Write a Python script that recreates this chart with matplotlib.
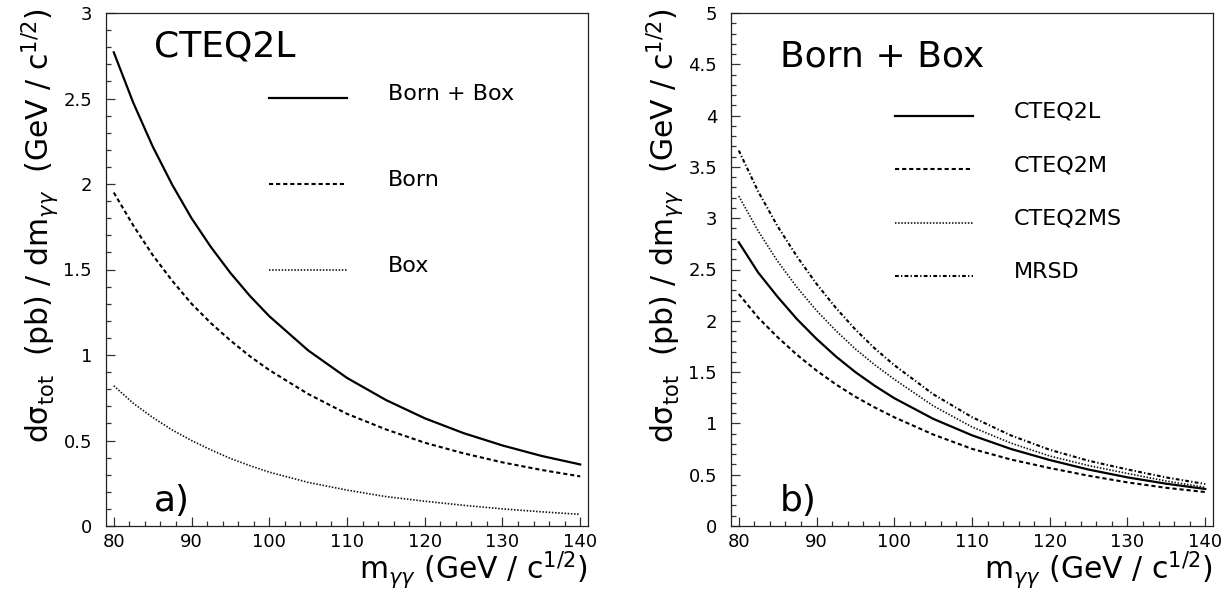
import matplotlib
matplotlib.use('Agg')
import matplotlib.pyplot as plt
from matplotlib.ticker import MultipleLocator, FuncFormatter
from matplotlib.legend_handler import HandlerLine2D
from matplotlib.lines import Line2D

plt.rcParams['font.family'] = ['DejaVu Sans']
plt.rcParams['mathtext.fontset'] = 'custom'
plt.rcParams['mathtext.rm'] = 'DejaVu Sans'
plt.rcParams['mathtext.it'] = 'DejaVu Sans:italic'
plt.rcParams['mathtext.bf'] = 'DejaVu Sans:bold'

# ---------------- data ----------------
m_gg = [80, 82.5, 85, 87.5, 90, 92.5, 95, 97.5, 100,
        105, 110, 115, 120, 125, 130, 135, 140]

# panel a) CTEQ2L
born_box = [2.77, 2.476, 2.22, 1.997, 1.80, 1.631, 1.48, 1.346, 1.227,
            1.027, 0.866, 0.737, 0.630, 0.543, 0.471, 0.410, 0.360]
born = [1.95, 1.758, 1.585, 1.435, 1.30, 1.186, 1.085, 0.993, 0.912,
        0.772, 0.656, 0.565, 0.487, 0.425, 0.372, 0.328, 0.290]
box = [0.82, 0.718, 0.635, 0.562, 0.50, 0.445, 0.395, 0.353, 0.315,
       0.255, 0.210, 0.172, 0.145, 0.121, 0.100, 0.083, 0.068]

# panel b) Born + Box for several PDFs
cteq2l = [2.765, 2.47, 2.233, 2.015, 1.824, 1.652, 1.50, 1.366, 1.246,
          1.045, 0.884, 0.751, 0.643, 0.550, 0.474, 0.412, 0.361]
cteq2m = [2.261, 2.03, 1.84, 1.668, 1.515, 1.38, 1.26, 1.155, 1.06,
          0.892, 0.752, 0.648, 0.565, 0.490, 0.425, 0.372, 0.331]
cteq2ms = [3.216, 2.875, 2.58, 2.325, 2.10, 1.903, 1.725, 1.57, 1.43,
           1.172, 0.965, 0.808, 0.682, 0.589, 0.512, 0.438, 0.377]
mrsd = [3.66, 3.26, 2.92, 2.625, 2.36, 2.125, 1.915, 1.73, 1.568,
        1.285, 1.061, 0.883, 0.743, 0.636, 0.551, 0.473, 0.409]

labels_a = ['Born + Box', 'Born', 'Box']
labels_b = ['CTEQ2L', 'CTEQ2M', 'CTEQ2MS', 'MRSD']
xticks = [80, 90, 100, 110, 120, 130, 140]

# ---------------- styles ----------------
SOLID = dict(color='black', lw=1.6, linestyle='-')
DASHED = dict(color='black', lw=1.5, linestyle=(0, (2.0, 1.4)))
DOTTED = dict(color='#111111', lw=1.2, linestyle=(0, (0.9, 1.0)))
DASHDOT = dict(color='black', lw=1.5, linestyle=(0, (1.8, 1.1, 0.6, 1.1)))


class LowLine(HandlerLine2D):
    def create_artists(self, legend, orig_handle, xdescent, ydescent,
                       width, height, fontsize, trans):
        arts = super().create_artists(legend, orig_handle, xdescent, ydescent,
                                      width, height, fontsize, trans)
        for a in arts:
            a.set_ydata([y - 0.27 * fontsize for y in a.get_ydata()])
        return arts


fig = plt.figure(figsize=(12.28, 5.92), dpi=100)
W, H = 1228.0, 592.0
ax_a = fig.add_axes([106 / W, (H - 526) / H, 482 / W, 513 / H])
ax_b = fig.add_axes([731 / W, (H - 526) / H, 482 / W, 513 / H])

fmt = FuncFormatter(lambda v, p: '%g' % v)

ylab = r'd$\mathrm{\sigma}_{\mathrm{tot}}$  (pb) / dm$_{\gamma\gamma}$  (GeV / c$^{1/2}$)'
xlab = r'm$_{\gamma\gamma}$ (GeV / c$^{1/2}$)'

for ax, ymax in ((ax_a, 3), (ax_b, 5)):
    ax.set_xlim(79, 141)
    ax.set_ylim(0, ymax)
    ax.set_xticks(xticks)
    ax.xaxis.set_minor_locator(MultipleLocator(2))
    ax.yaxis.set_major_locator(MultipleLocator(0.5))
    ax.yaxis.set_minor_locator(MultipleLocator(0.1))
    ax.yaxis.set_major_formatter(fmt)
    ax.tick_params(which='both', direction='in', top=False, right=False,
                   color='#333333', width=0.9, labelsize=13)
    ax.tick_params(which='major', length=6.6)
    ax.tick_params(which='minor', length=3.4)
    ax.tick_params(axis='x', which='major', pad=5)
    ax.tick_params(axis='y', which='major', pad=10)
    for s in ax.spines.values():
        s.set_linewidth(0.9)
        s.set_color('#222222')
    ax.set_xlabel(xlab, fontsize=21.5, loc='right')
    ax.xaxis.set_label_coords(1.0, -0.046)
    ax.set_ylabel(ylab, fontsize=21.5, loc='top')
    ax.yaxis.set_label_coords(-0.094, 1.010)

# panel a
h1, = ax_a.plot(m_gg, born_box, **SOLID)
h2, = ax_a.plot(m_gg, born, **DASHED)
h3, = ax_a.plot(m_gg, box, **DOTTED)
ax_a.legend([h1, h2, h3], labels_a, loc='upper left', bbox_to_anchor=(0.339, 0.862),
            frameon=False, fontsize=16, handlelength=3.5, handletextpad=1.85,
            labelspacing=2.97, borderpad=0, borderaxespad=0,
            handler_map={Line2D: LowLine()})
ax_a.text(0.099, 0.9146, 'CTEQ2L', transform=ax_a.transAxes, fontsize=26,
          ha='left', va='baseline')
ax_a.text(0.100, 0.030, 'a)', transform=ax_a.transAxes, fontsize=26,
          ha='left', va='baseline')

# panel b
g1, = ax_b.plot(m_gg, cteq2l, **SOLID)
g2, = ax_b.plot(m_gg, cteq2m, **DASHED)
g3, = ax_b.plot(m_gg, cteq2ms, **DOTTED)
g4, = ax_b.plot(m_gg, mrsd, **DASHDOT)
ax_b.legend([g1, g2, g3, g4], labels_b, loc='upper left', bbox_to_anchor=(0.340, 0.827),
            frameon=False, fontsize=16, handlelength=3.5, handletextpad=1.85,
            labelspacing=1.50, borderpad=0, borderaxespad=0,
            handler_map={Line2D: LowLine()})
ax_b.text(0.102, 0.896, 'Born + Box', transform=ax_b.transAxes, fontsize=26,
          ha='left', va='baseline')
ax_b.text(0.102, 0.030, 'b)', transform=ax_b.transAxes, fontsize=26,
          ha='left', va='baseline')

fig.savefig('out.png', dpi=100)
